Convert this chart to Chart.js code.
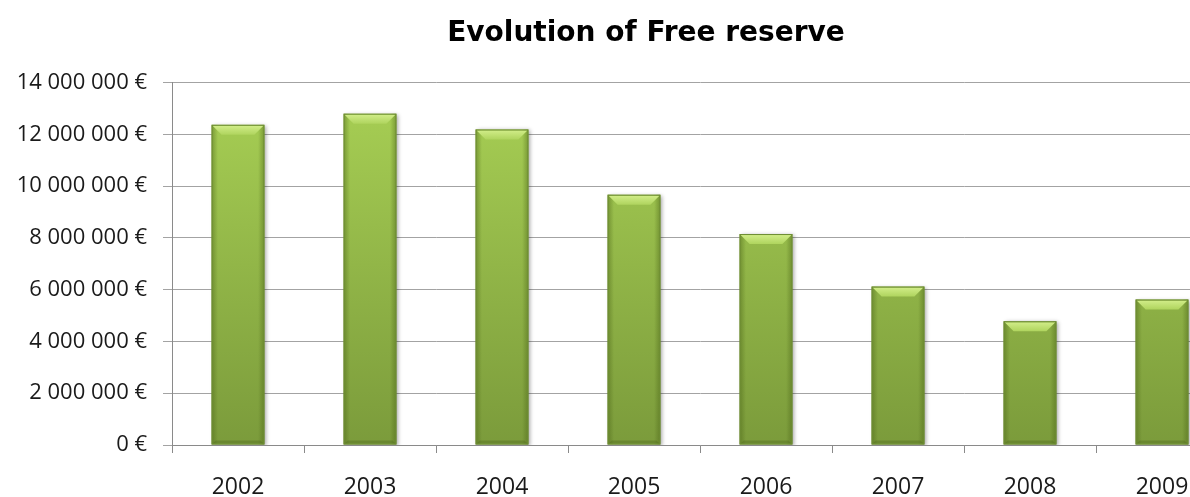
<!DOCTYPE html>
<html>
<head>
<meta charset="utf-8">
<script src="https://cdn.jsdelivr.net/npm/chart.js@4"></script>
<style>
    html, body { margin: 0; padding: 0; background: #fff; overflow: hidden; }
    #chartHolder { width: 1292px; height: 497px; }
</style>
</head>
<body>
<div id="chartHolder">
    <canvas id="reserveChart" width="1292" height="497"></canvas>
</div>
<script>
const years = ["2002", "2003", "2004", "2005", "2006", "2007", "2008", "2009"];
const freeReserve = [12370000, 12800000, 12190000, 9670000, 8150000, 6120000, 4780000, 5620000];
const yTicks = [0, 2000000, 4000000, 6000000, 8000000, 10000000, 12000000, 14000000];

const formatEuro = (v) => {
    return String(Math.round(v)).replace(/\B(?=(\d{3})+(?!\d))/g, " ") + " €";
}

// shadow + bevel look of the old office bars
const bevelPlugin = {
    id: "bevel",
    afterLayout(chart) {
        // original title sits a bit right of the canvas centre
        if (chart.titleBlock) chart.titleBlock.left = 64;
    },
    beforeDatasetDraw(chart) {
        const ctx = chart.ctx;
        ctx.save();
        ctx.shadowColor = "rgba(0,0,0,0.35)";
        ctx.shadowBlur = 4;
        ctx.shadowOffsetX = 2;
        ctx.shadowOffsetY = 1;
    },
    afterDatasetDraw(chart) {
        const ctx = chart.ctx;
        ctx.restore();

        chart.getDatasetMeta(0).data.forEach(bar => {
            const w = bar.width;
            const left = bar.x - w / 2;
            const right = bar.x + w / 2;
            const top = bar.y;
            const bottom = bar.base;
            const b = 10;

            // darker side strips
            let side = ctx.createLinearGradient(left, 0, right, 0);
            side.addColorStop(0, "rgba(70,95,20,0.45)");
            side.addColorStop(0.12, "rgba(70,95,20,0.0)");
            side.addColorStop(0.88, "rgba(70,95,20,0.0)");
            side.addColorStop(1, "rgba(70,95,20,0.45)");
            ctx.fillStyle = side;
            ctx.fillRect(left, top, w, bottom - top);

            // lit top bevel
            let g = ctx.createLinearGradient(0, top, 0, top + b);
            g.addColorStop(0, "#d4ef8c");
            g.addColorStop(1, "#afd45e");
            ctx.fillStyle = g;
            ctx.beginPath();
            ctx.moveTo(left + 1, top + 1);
            ctx.lineTo(right - 1, top + 1);
            ctx.lineTo(right - b, top + b);
            ctx.lineTo(left + b, top + b);
            ctx.closePath();
            ctx.fill();

            // darker bottom bevel
            ctx.fillStyle = "rgba(80,105,30,0.4)";
            ctx.beginPath();
            ctx.moveTo(left + 1, bottom - 1);
            ctx.lineTo(right - 1, bottom - 1);
            ctx.lineTo(right - 4, bottom - 4);
            ctx.lineTo(left + 4, bottom - 4);
            ctx.closePath();
            ctx.fill();

            ctx.strokeStyle = "#6f8e35";
            ctx.lineWidth = 1;
            ctx.strokeRect(left + 0.5, top + 0.5, w - 1, bottom - top - 1);
        });
    }
}

const canvasElement = document.querySelector("#reserveChart");

const reserveChart = new Chart(canvasElement, {
    type: "bar",
    data: {
        labels: years,
        datasets: [{
            label: "Free reserve",
            data: freeReserve,
            backgroundColor: (c) => {
                const area = c.chart.chartArea;
                if (!area) return "#94bd47";
                const g = c.chart.ctx.createLinearGradient(0, area.top, 0, area.bottom);
                g.addColorStop(0, "#a9d155");
                g.addColorStop(1, "#7b9b3b");
                return g;
            },
            borderWidth: 0,
            barPercentage: 0.4,
            categoryPercentage: 1.0
        }]
    },
    options: {
        responsive: false,
        animation: false,
        devicePixelRatio: 1,
        layout: { padding: { left: 0, right: 64, top: 0, bottom: 0 } },
        plugins: {
            legend: { display: false },
            tooltip: { enabled: false },
            title: {
                display: true,
                text: "Evolution of Free reserve",
                color: "#000",
                font: { family: "DejaVu Sans", size: 28, weight: "bold" },
                padding: { top: 17, bottom: 32 }
            }
        },
        scales: {
            x: {
                grid: {
                    drawOnChartArea: false,
                    drawTicks: true,
                    tickLength: 8,
                    color: "#8a8a8a"
                },
                border: { color: "#8a8a8a" },
                ticks: {
                    color: "#1a1a1a",
                    padding: 21,
                    font: { family: "Open Sans", size: 23 }
                },
                afterFit: (scale) => { scale.height = 52; }
            },
            y: {
                min: 0,
                max: 14000000,
                afterBuildTicks: (scale) => {
                    scale.ticks = yTicks.map(v => ({ value: v }));
                },
                grid: {
                    color: "#a3a3a3",
                    tickLength: 9
                },
                border: { color: "#8a8a8a" },
                ticks: {
                    color: "#1a1a1a",
                    padding: 16,
                    font: { family: "Open Sans", size: 22 },
                    callback: (v) => formatEuro(v)
                },
                afterFit: (scale) => { scale.width = 172; }
            }
        }
    },
    plugins: [bevelPlugin]
});
</script>
</body>
</html>
